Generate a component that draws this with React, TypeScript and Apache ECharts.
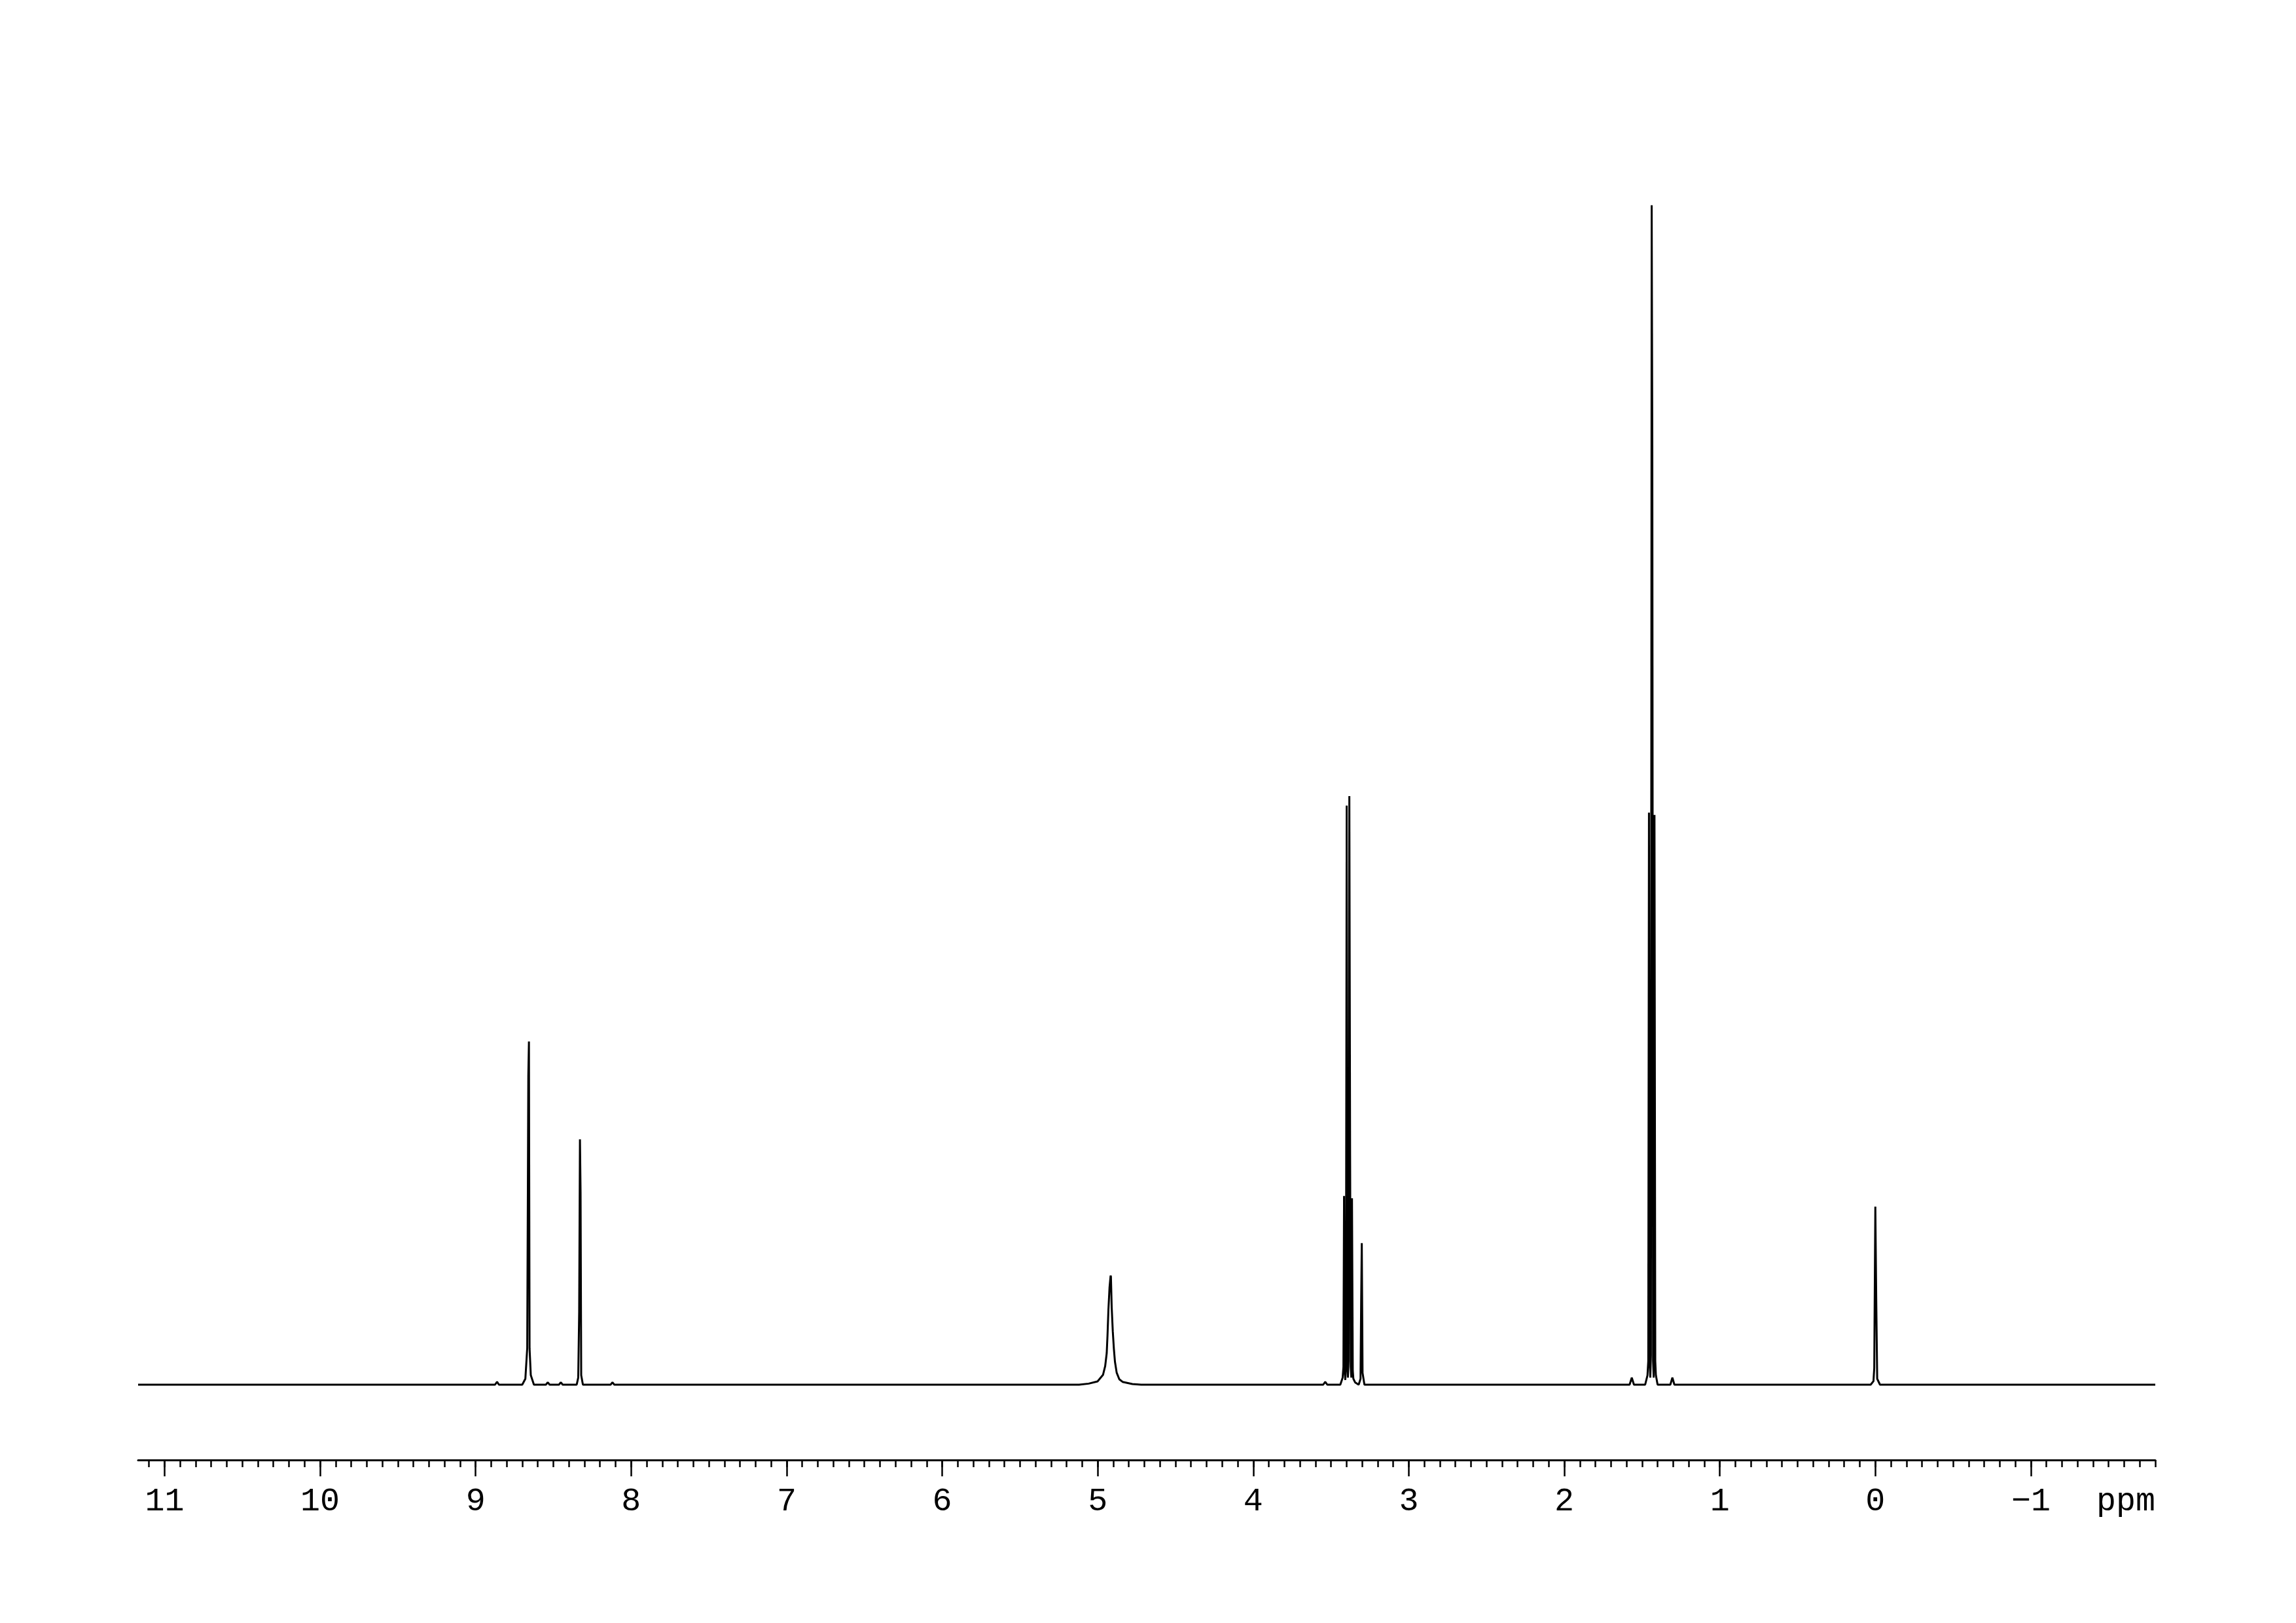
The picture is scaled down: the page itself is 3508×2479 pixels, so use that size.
import React, { useEffect, useRef } from 'react';
import * as echarts from 'echarts';

// ---- data (ppm, relative intensity; tallest line = 100) ----
const ppmRange = [-1.8, 11.17];
const majorTicks = [11, 10, 9, 8, 7, 6, 5, 4, 3, 2, 1, 0, -1];
const minorStep = 0.1;
const minorTickRange = [-1.8, 11.1];
const axisUnit = 'ppm';

const aromaticSignals: number[][] = [
  [8.7, 0], [8.68, 0.5], [8.668, 3.1], [8.661, 26.2], [8.657, 29.1], [8.653, 3.1], [8.645, 0.8], [8.625, 0],
  [8.35, 0], [8.34, 0.6], [8.334, 6.2], [8.329, 20.8], [8.325, 16.3], [8.321, 0.8], [8.31, 0],
];

const waterSignal: number[][] = [
  [5.12, 0], [5.058, 0.09], [5.001, 0.28], [4.966, 0.83], [4.952, 1.57], [4.942, 2.68], [4.937, 4.16],
  [4.931, 6.38], [4.924, 8.23], [4.917, 9.25], [4.915, 9.16], [4.91, 6.56], [4.903, 4.53], [4.896, 3.05],
  [4.889, 1.94], [4.878, 1.02], [4.861, 0.46], [4.84, 0.24], [4.777, 0.06], [4.72, 0],
];

const ethylQuartet: number[][] = [
  [3.44, 0], [3.425, 0.6], [3.42, 1.5], [3.416, 16.0], [3.412, 1.2], [3.408, 0.4], [3.404, 1.5], [3.399, 49.1],
  [3.395, 2.0], [3.391, 0.6], [3.387, 2.0], [3.382, 49.9], [3.377, 19.4], [3.373, 1.5], [3.369, 0.6],
  [3.365, 15.8], [3.36, 1.2], [3.356, 0.5], [3.345, 0.2],
];

const solventSignal: number[][] = [
  [3.322, 0], [3.31, 0.5], [3.306, 7.0], [3.302, 12.0], [3.297, 1.0], [3.285, 0],
];

const ethylTriplet: number[][] = [
  [1.48, 0], [1.465, 0.8], [1.46, 2.0], [1.4555, 48.5], [1.451, 2.0], [1.447, 0.6], [1.443, 2.5],
  [1.438, 100], [1.434, 79.7], [1.429, 2.0], [1.425, 0.6], [1.42, 48.3], [1.415, 2.0], [1.411, 0.8], [1.4, 0],
];

const carbonSatellites: number[][] = [
  [1.58, 0], [1.566, 0.6], [1.552, 0],
  [1.318, 0], [1.305, 0.6], [1.292, 0],
];

const tmsSignal: number[][] = [
  [0.03, 0], [0.012, 0.3], [0.007, 1.4], [0.0, 15.1], [-0.006, 7.0], [-0.012, 0.5], [-0.03, 0],
];

const impurityBumps: number[][] = [
  [8.875, 0], [8.862, 0.25], [8.85, 0],
  [8.548, 0], [8.536, 0.2], [8.524, 0],
  [8.464, 0], [8.452, 0.2], [8.44, 0],
  [8.132, 0], [8.12, 0.2], [8.108, 0],
  [3.55, 0], [3.537, 0.25], [3.524, 0],
];

const baselineEnds: number[][] = [[ppmRange[1], 0], [ppmRange[0], 0]];

// ---- layout ----
const W = 3508;
const H = 2479;
const PLOT_LEFT = 211;
const PLOT_RIGHT = 3293;
const BASELINE_Y = 2115;
const AXIS_Y = 2230;
const PLOT_TOP = 214;
const TOP_VALUE = 100;
const TOP_PIXEL = 313.5;
const FONT = '"Liberation Mono", "DejaVu Sans Mono", monospace';
const FONT_SIZE = 50;
const LABEL_MARGIN = 38;

export default function App() {
  const ref = useRef<HTMLDivElement>(null);

  useEffect(() => {
    if (!ref.current) return;
    const chart = echarts.init(ref.current, undefined, { renderer: 'svg', width: W, height: H });

    const spectrum = [
      ...baselineEnds, ...aromaticSignals, ...waterSignal, ...ethylQuartet, ...solventSignal,
      ...ethylTriplet, ...carbonSatellites, ...tmsSignal, ...impurityBumps,
    ].sort((a, b) => b[0] - a[0]);

    const pxPerPpm = (PLOT_RIGHT - PLOT_LEFT) / (ppmRange[1] - ppmRange[0]);
    const plotH = BASELINE_Y - PLOT_TOP;
    const yMax = (TOP_VALUE * plotH) / (BASELINE_Y - TOP_PIXEL);
    const bottom = H - BASELINE_Y;
    const offset = AXIS_Y - BASELINE_Y;

    const majMin = Math.min(...majorTicks);
    const majMax = Math.max(...majorTicks);

    const gridBase = { top: PLOT_TOP, bottom, containLabel: false, outerBoundsMode: 'none' };
    const grids = [
      { ...gridBase, left: PLOT_LEFT, right: W - PLOT_RIGHT },
      {
        ...gridBase,
        left: PLOT_LEFT + (ppmRange[1] - minorTickRange[1]) * pxPerPpm,
        right: W - PLOT_RIGHT + (minorTickRange[0] - ppmRange[0]) * pxPerPpm,
      },
      {
        ...gridBase,
        left: PLOT_LEFT + (ppmRange[1] - majMax) * pxPerPpm,
        right: W - PLOT_RIGHT + (majMin - ppmRange[0]) * pxPerPpm,
      },
    ];

    const fmt = (v: number) => (v < 0 ? '\u2212' + Math.abs(v) : String(v));

    const option: any = {
      animation: false,
      backgroundColor: '#ffffff',
      grid: grids,
      xAxis: [
        {
          gridIndex: 0, type: 'value', inverse: true, min: ppmRange[0], max: ppmRange[1], offset,
          axisLine: { show: true, onZero: false, lineStyle: { color: '#000', width: 3 } },
          axisTick: { show: false }, axisLabel: { show: false }, splitLine: { show: false },
        },
        {
          gridIndex: 1, type: 'value', inverse: true, min: minorTickRange[0], max: minorTickRange[1],
          interval: minorStep, offset,
          axisLine: { show: false, onZero: false },
          axisTick: { show: true, length: 11, lineStyle: { color: '#000', width: 2.5 } },
          axisLabel: { show: false }, splitLine: { show: false },
        },
        {
          gridIndex: 2, type: 'value', inverse: true, min: majMin, max: majMax, interval: 1, offset,
          axisLine: { show: false, onZero: false },
          axisTick: { show: true, length: 25, lineStyle: { color: '#000', width: 2.5 } },
          axisLabel: {
            show: true, color: '#000', fontFamily: FONT, fontSize: FONT_SIZE, margin: LABEL_MARGIN,
            formatter: fmt,
          },
          splitLine: { show: false },
        },
      ],
      yAxis: [0, 1, 2].map((i) => ({
        gridIndex: i, type: 'value', show: false, min: 0, max: i === 0 ? yMax : 1,
        splitLine: { show: false },
      })),
      graphic: [
        {
          type: 'text', x: PLOT_RIGHT, y: AXIS_Y + LABEL_MARGIN, silent: true,
          style: {
            text: axisUnit, fill: '#000', font: `${FONT_SIZE}px ${FONT}`,
            textAlign: 'right', textVerticalAlign: 'top',
          },
        },
      ],
      series: [
        {
          type: 'line', xAxisIndex: 0, yAxisIndex: 0, data: spectrum, showSymbol: false, symbol: 'none',
          clip: false, silent: true,
          lineStyle: { color: '#000', width: 3, join: 'bevel' },
        },
      ],
    };

    chart.setOption(option);
    return () => chart.dispose();
  }, []);

  return (
    <div
      ref={ref}
      style={{ position: 'fixed', left: 0, top: 0, width: W, height: H, background: '#fff' }}
    />
  );
}
